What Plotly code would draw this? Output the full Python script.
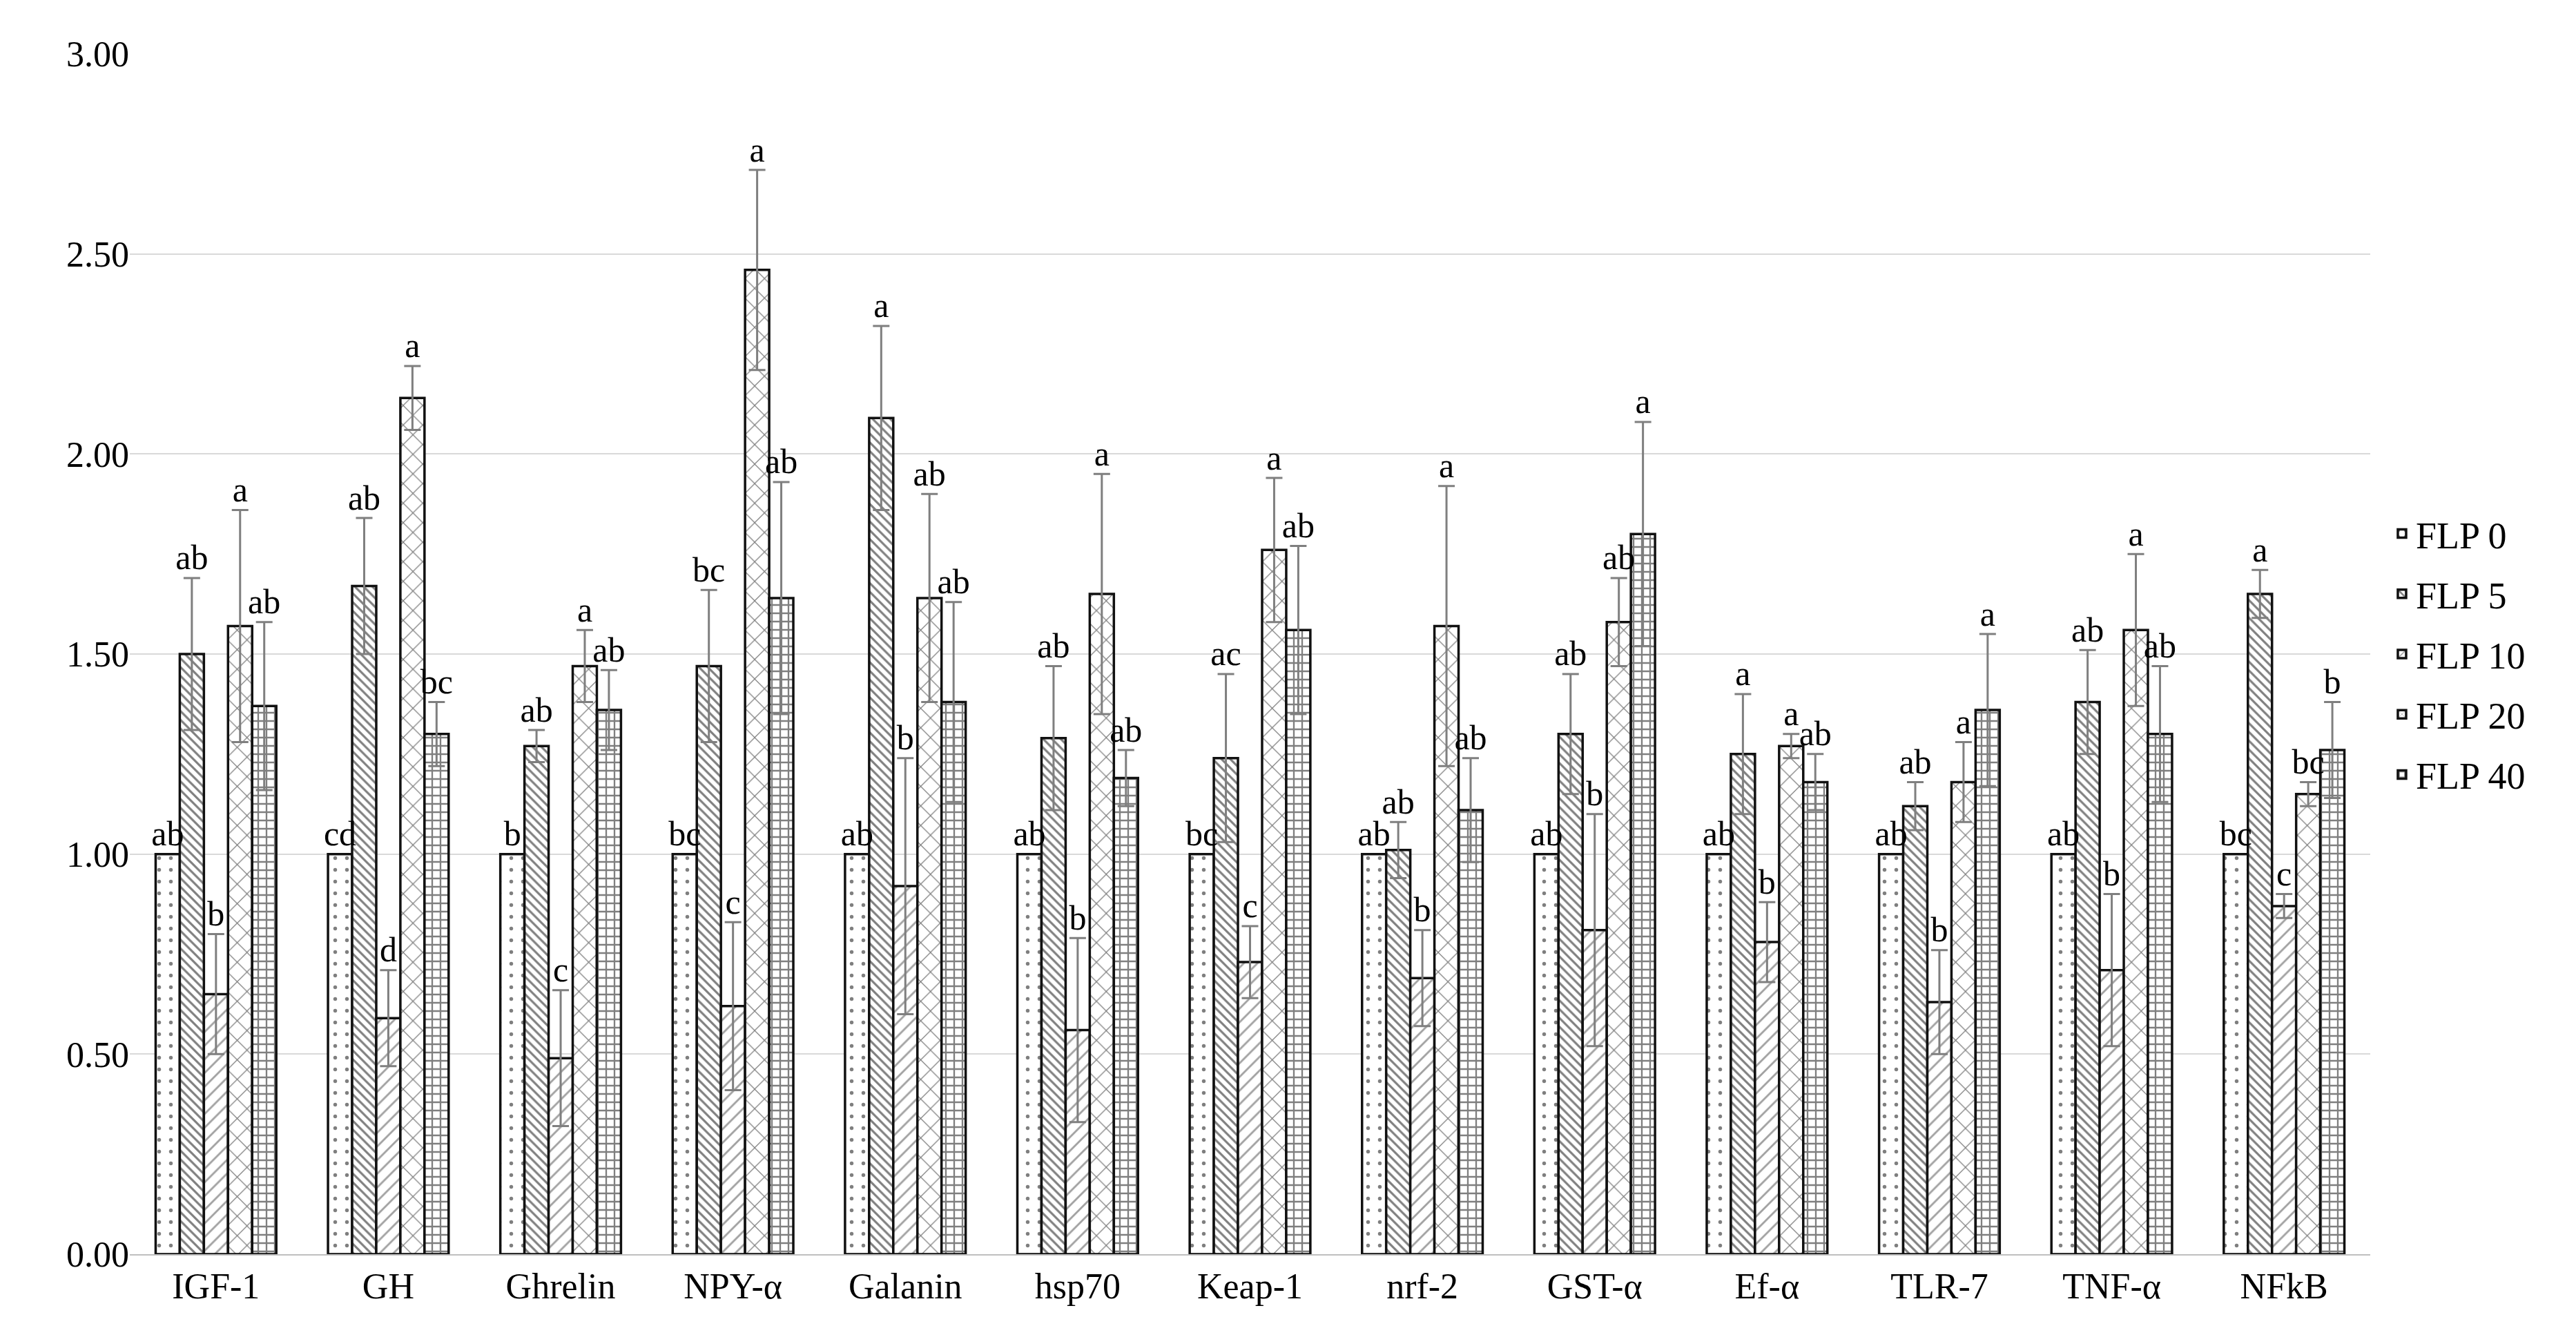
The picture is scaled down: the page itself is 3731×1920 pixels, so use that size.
import plotly.graph_objects as go

genes = ["IGF-1", "GH", "Ghrelin", "NPY-α", "Galanin", "hsp70", "Keap-1",
         "nrf-2", "GST-α", "Ef-α", "TLR-7", "TNF-α", "NFkB"]

groups = ["FLP 0", "FLP 5", "FLP 10", "FLP 20", "FLP 40"]

# relative expression (means)
flp0 = [1.00, 1.00, 1.00, 1.00, 1.00, 1.00, 1.00, 1.00, 1.00, 1.00, 1.00, 1.00, 1.00]
flp5 = [1.50, 1.67, 1.27, 1.47, 2.09, 1.29, 1.24, 1.01, 1.30, 1.25, 1.12, 1.38, 1.65]
flp10 = [0.65, 0.59, 0.49, 0.62, 0.92, 0.56, 0.73, 0.69, 0.81, 0.78, 0.63, 0.71, 0.87]
flp20 = [1.57, 2.14, 1.47, 2.46, 1.64, 1.65, 1.76, 1.57, 1.58, 1.27, 1.18, 1.56, 1.15]
flp40 = [1.37, 1.30, 1.36, 1.64, 1.38, 1.19, 1.56, 1.11, 1.80, 1.18, 1.36, 1.30, 1.26]

# standard errors
err0 = [0, 0, 0, 0, 0, 0, 0, 0, 0, 0, 0, 0, 0]
err5 = [0.19, 0.17, 0.04, 0.19, 0.23, 0.18, 0.21, 0.07, 0.15, 0.15, 0.06, 0.13, 0.06]
err10 = [0.15, 0.12, 0.17, 0.21, 0.32, 0.23, 0.09, 0.12, 0.29, 0.10, 0.13, 0.19, 0.03]
err20 = [0.29, 0.08, 0.09, 0.25, 0.26, 0.30, 0.18, 0.35, 0.11, 0.03, 0.10, 0.19, 0.03]
err40 = [0.21, 0.08, 0.10, 0.29, 0.25, 0.07, 0.21, 0.13, 0.28, 0.07, 0.19, 0.17, 0.12]

# significance letters
let0 = ["ab", "cd", "b", "bc", "ab", "ab", "bc", "ab", "ab", "ab", "ab", "ab", "bc"]
let5 = ["ab", "ab", "ab", "bc", "a", "ab", "ac", "ab", "ab", "a", "ab", "ab", "a"]
let10 = ["b", "d", "c", "c", "b", "b", "c", "b", "b", "b", "b", "b", "c"]
let20 = ["a", "a", "a", "a", "ab", "a", "a", "a", "ab", "a", "a", "a", "bc"]
let40 = ["ab", "bc", "ab", "ab", "ab", "ab", "ab", "ab", "a", "ab", "a", "ab", "b"]

means = [flp0, flp5, flp10, flp20, flp40]
errs = [err0, err5, err10, err20, err40]
letters = [let0, let5, let10, let20, let40]

patterns = [
    dict(shape=".", size=17, solidity=0.08, fgcolor="black"),
    dict(shape="\\", size=9, solidity=0.35, fgcolor="black"),
    dict(shape="/", size=14, solidity=0.2, fgcolor="#444444"),
    dict(shape="x", size=20, solidity=0.12, fgcolor="black"),
    dict(shape="+", size=12, solidity=0.35, fgcolor="black"),
]

FONT = "Liberation Serif, Times New Roman, serif"
GAP = 0.30

fig = go.Figure()

for i, name in enumerate(groups):
    fig.add_trace(go.Bar(
        name=name, x=genes, y=means[i], offsetgroup=str(i), legendgroup=name,
        marker=dict(color="white", line=dict(color="#111111", width=3.5),
                    pattern=patterns[i]),
        error_y=dict(type="data", array=errs[i], visible=any(errs[i]),
                     color="#7f7f7f", thickness=3, width=12),
    ))

for i, name in enumerate(groups):
    tops = [m + e for m, e in zip(means[i], errs[i])]
    fig.add_trace(go.Scatter(
        x=genes, y=tops, mode="text", text=letters[i], offsetgroup=str(i),
        textposition="top center", showlegend=False, hoverinfo="skip",
        textfont=dict(family=FONT, size=50, color="black"),
    ))

fig.update_layout(
    width=3731, height=1920,
    barmode="group", bargap=GAP, bargroupgap=0,
    scattermode="group", scattergap=GAP,
    plot_bgcolor="white", paper_bgcolor="white",
    font=dict(family=FONT, size=52, color="black"),
    margin=dict(l=180, r=306, t=70, b=112),
    legend=dict(x=1.008, y=0.5, xanchor="left", yanchor="middle",
                font=dict(size=54), itemwidth=30, tracegroupgap=14),
    xaxis=dict(showline=True, linecolor="#bfbfbf", linewidth=2,
               ticks="", tickfont=dict(size=52)),
    yaxis=dict(range=[0, 3], dtick=0.5, tickformat=".2f",
               gridcolor="#d9d9d9", gridwidth=2, zeroline=False,
               showline=False, ticks="", tickfont=dict(size=52)),
)

fig.write_html("out.html")
